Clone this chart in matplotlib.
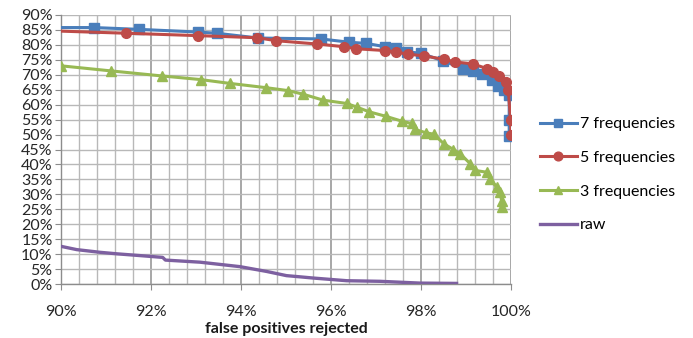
import matplotlib
matplotlib.use("Agg")
import matplotlib.pyplot as plt
from matplotlib.ticker import MultipleLocator, FuncFormatter

# ---- data (percent) ----
f7_x = [90.0, 90.74, 91.73, 93.04, 93.46, 94.38, 95.77, 96.40, 96.78, 97.20, 97.44, 97.69,
        97.99, 98.49, 98.93, 99.16, 99.35, 99.57, 99.71, 99.84, 99.96, 99.96, 99.96]
f7_y = [85.8, 85.8, 85.2, 84.3, 83.9, 82.3, 82.0, 80.9, 80.5, 79.4, 78.8, 77.7,
        77.2, 74.7, 72.1, 71.3, 70.2, 68.2, 66.2, 64.9, 63.2, 55.0, 49.5]

f5_x = [90.0, 91.44, 93.04, 94.36, 94.78, 95.69, 96.28, 96.56, 97.21, 97.44, 97.71, 98.07,
        98.51, 98.76, 99.16, 99.46, 99.61, 99.74, 99.89, 99.94, 99.99, 100.0]
f5_y = [84.6, 83.9, 83.1, 82.4, 81.4, 80.3, 79.4, 78.7, 78.1, 77.6, 76.9, 76.3,
        75.2, 74.3, 73.6, 72.1, 71.0, 69.5, 67.6, 64.8, 54.8, 50.0]

f3_x = [90.0, 91.11, 92.25, 93.10, 93.76, 94.55, 95.05, 95.38, 95.83, 96.35, 96.57, 96.85,
        97.22, 97.57, 97.79, 97.87, 98.11, 98.29, 98.50, 98.72, 98.87, 99.09, 99.20, 99.46,
        99.53, 99.68, 99.76, 99.79, 99.79]
f3_y = [73.0, 71.3, 69.6, 68.4, 67.1, 65.7, 64.7, 63.5, 61.5, 60.4, 59.2, 57.6,
        56.1, 54.5, 53.7, 51.7, 50.6, 50.1, 47.0, 45.0, 43.6, 40.3, 38.0, 37.4,
        35.2, 32.4, 30.7, 27.9, 25.8]

raw_x = [90.0, 90.35, 90.87, 91.24, 91.76, 92.26, 92.32, 93.09, 93.98, 94.57, 95.01, 95.31,
         95.60, 96.35, 97.09, 97.98, 98.79]
raw_y = [12.6, 11.5, 10.6, 10.1, 9.5, 8.9, 8.0, 7.3, 5.8, 4.2, 2.8, 2.4,
         2.0, 1.1, 0.9, 0.3, 0.2]

labels = ["7 frequencies", "5 frequencies", "3 frequencies", "raw"]
colors = ["#4A7EBB", "#BE4B48", "#98B954", "#7D60A0"]

plt.rcParams['font.family'] = ['Lato', 'DejaVu Sans']

fig = plt.figure(figsize=(6.93, 3.38), dpi=100)
ax = fig.add_axes([61/693, 1-284/338, 450/693, 269/338])

ax.plot(f7_x, f7_y, color=colors[0], lw=2.2, marker='s', ms=6.5, markevery=list(range(1, len(f7_x))),
        label=labels[0], zorder=3)
ax.plot(f5_x, f5_y, color=colors[1], lw=2.2, marker='o', ms=7.0, markevery=list(range(1, len(f5_x))),
        label=labels[1], zorder=4)
ax.plot(f3_x, f3_y, color=colors[2], lw=2.2, marker='^', ms=7.0, label=labels[2], zorder=3)
ax.plot(raw_x, raw_y, color=colors[3], lw=2.4, label=labels[3], zorder=3)

ax.set_xlim(90, 100)
ax.set_ylim(0, 90)
ax.xaxis.set_major_locator(MultipleLocator(2))
ax.xaxis.set_minor_locator(MultipleLocator(0.4))
ax.yaxis.set_major_locator(MultipleLocator(5))
ax.xaxis.set_major_formatter(FuncFormatter(lambda v, p: f"{v:.0f}%"))
ax.yaxis.set_major_formatter(FuncFormatter(lambda v, p: f"{v:.0f}%"))

ax.set_axisbelow(True)
ax.grid(which='major', axis='x', color='#8f8f8f', lw=1.1)
ax.grid(which='minor', axis='x', color='#b8b8b8', lw=1.0)
ax.grid(which='major', axis='y', color='#b8b8b8', lw=1.0)

for s in ['top', 'right']:
    ax.spines[s].set_visible(False)
for s in ['left', 'bottom']:
    ax.spines[s].set_color('#8c8c8c')
    ax.spines[s].set_linewidth(1.0)

ax.tick_params(axis='both', which='major', colors='#8c8c8c', labelcolor='#262626',
               labelsize=11.5, length=4, direction='out')
ax.tick_params(axis='x', which='minor', length=0.01, width=0.01)
ax.tick_params(axis='x', which='major', pad=11)
ax.tick_params(axis='y', which='major', pad=2)

ax.set_xlabel("false positives rejected", fontsize=11.5, fontweight='bold', color='#1a1a1a', labelpad=2)

fig.legend(loc='upper left', bbox_to_anchor=(540/693, 1-117/338), frameon=False,
           fontsize=11.5, handlelength=2.3, handletextpad=0.2, labelspacing=1.22,
           borderpad=0, borderaxespad=0, markerscale=0.9)

fig.savefig("out.png", dpi=100)
